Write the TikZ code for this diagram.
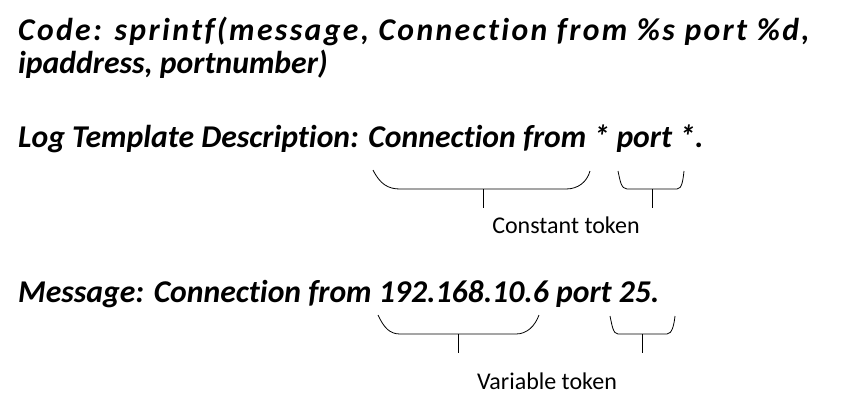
\documentclass[tikz,border=0pt]{standalone}
\usepackage{fontspec}
\setmainfont{Carlito}[Ligatures={NoCommon}]
\begin{document}
\begin{tikzpicture}[x=1pt,y=-1pt,
  line/.style={font=\fontsize{31.7}{32}\selectfont\bfseries\itshape,anchor=base west,inner sep=0pt},
  tag/.style={font=\fontsize{24}{24}\selectfont,anchor=base,inner sep=0pt},
  brace/.style={line width=0.8pt,black}]
	\useasboundingbox (0,0) rectangle (841,400);
	% text lines
	\node[line] (code) at (18,40) {\addfontfeature{LetterSpace=7.5}Code: sprintf(message, Connection from \%s port \%d,};
	\node[line] (args) at (18,73) {ipaddress, portnumber)};
	\node[line] (tmpl) at (18,147) {Log Template Description: Connection from * port *.};
	\node[line] (msg) at (18,302) {Message: Connection from 192.168.10.6 port 25.};
	% constant braces
	\draw[brace] (373,170) .. controls (380,184) and (388,189) .. (400,189) -- (566,189) .. controls (578,189) and (587,182) .. (590,171);
	\draw[brace] (618,171) .. controls (620,180) and (621,189) .. (627,189) -- (677,189) .. controls (682,189) and (683,180) .. (684,171);
	\coordinate (c1) at (483,189);
	\coordinate (c1e) at (483,208);
	\coordinate (c2) at (652,189);
	\coordinate (c2e) at (652,208);
	\draw[brace] (c1) -- (c1e);
	\draw[brace] (c2) -- (c2e);
	\node[tag] (const) at (566,233) {Constant token};
	% variable braces
	\draw[brace] (378,315) .. controls (384,328) and (390,334) .. (400,334) -- (516,334) .. controls (527,334) and (535,326) .. (539,315);
	\draw[brace] (610,316) .. controls (612,325) and (613,334) .. (618,334) -- (667,334) .. controls (672,334) and (674,325) .. (675,316);
	\coordinate (v1) at (458,334);
	\coordinate (v1e) at (458,353);
	\coordinate (v2) at (642,334);
	\coordinate (v2e) at (642,353);
	\draw[brace] (v1) -- (v1e);
	\draw[brace] (v2) -- (v2e);
	\node[tag] (var) at (547,389) {Variable token};
\end{tikzpicture}
\end{document}
